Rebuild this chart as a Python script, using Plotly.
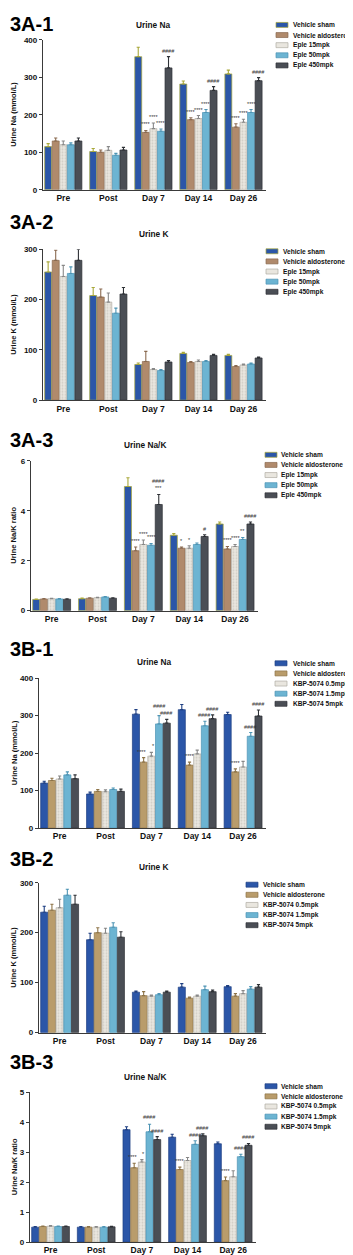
import plotly.graph_objects as go

W, H = 353, 1255
FONT = "Liberation Sans, Arial, sans-serif"

categories = ["Pre", "Post", "Day 7", "Day 14", "Day 26"]
groups_A = ["Vehicle sham", "Vehicle aldosterone", "Eple 15mpk", "Eple 50mpk", "Eple 450mpk"]
groups_B = ["Vehicle sham", "Vehicle aldosterone", "KBP-5074 0.5mpk", "KBP-5074 1.5mpk", "KBP-5074 5mpk"]

# ---- 3A-1 Urine Na (mmol/L)
a1_mean = [[115, 102, 355, 282, 309],
           [130, 100, 153, 187, 167],
           [120, 105, 163, 190, 180],
           [120, 92, 156, 206, 206],
           [130, 106, 325, 265, 291]]
a1_err = [[8, 8, 25, 8, 10],
          [8, 6, 5, 5, 9],
          [10, 10, 15, 8, 8],
          [5, 5, 6, 8, 8],
          [8, 7, 30, 10, 8]]
a1_sig = [(2, 1, "****"), (2, 2, "****"), (2, 3, "****"), (2, 4, "####"),
          (3, 1, "****"), (3, 2, "****"), (3, 3, "****"), (3, 4, "####"),
          (4, 1, "****"), (4, 2, "****"), (4, 3, "****"), (4, 4, "####")]

# ---- 3A-2 Urine K (mmol/L)
a2_mean = [[255, 208, 71, 93, 89],
           [278, 205, 77, 75, 67],
           [246, 195, 61, 77, 70],
           [252, 173, 59, 77, 72],
           [278, 211, 76, 89, 84]]
a2_err = [[20, 16, 3, 2, 2],
          [20, 16, 20, 2, 2],
          [22, 18, 2, 3, 2],
          [13, 10, 2, 2, 2],
          [22, 13, 3, 2, 2]]
a2_sig = []

# ---- 3A-3 Urine Na/K ratio
a3_mean = [[0.45, 0.48, 4.97, 3.02, 3.47],
           [0.47, 0.50, 2.40, 2.50, 2.47],
           [0.48, 0.52, 2.65, 2.50, 2.57],
           [0.47, 0.55, 2.62, 2.65, 2.85],
           [0.46, 0.50, 4.25, 2.97, 3.47]]
a3_err = [[0.02, 0.03, 0.35, 0.07, 0.08],
          [0.02, 0.02, 0.15, 0.05, 0.10],
          [0.02, 0.02, 0.18, 0.10, 0.08],
          [0.02, 0.02, 0.07, 0.06, 0.08],
          [0.02, 0.02, 0.40, 0.07, 0.08]]
a3_sig = [(2, 1, "****"), (2, 2, "****"), (2, 3, "****"), (2, 4, "####<br>***"),
          (3, 1, "*"), (3, 2, "*"), (3, 4, "#"),
          (4, 1, "****"), (4, 2, "****"), (4, 3, "**"), (4, 4, "####")]

# ---- 3B-1 Urine Na (mmol/L)
b1_mean = [[120, 91, 304, 316, 303],
           [127, 98, 176, 168, 150],
           [131, 97, 192, 198, 163],
           [142, 103, 278, 273, 245],
           [132, 98, 280, 292, 299]]
b1_err = [[5, 5, 12, 14, 6],
          [6, 5, 12, 8, 8],
          [8, 5, 10, 10, 15],
          [8, 4, 22, 12, 10],
          [10, 6, 10, 10, 16]]
b1_sig = [(2, 1, "****"), (2, 2, "*"), (2, 3, "####"), (2, 4, "####"),
          (3, 1, "****"), (3, 3, "####"), (3, 4, "####"),
          (4, 1, "****"), (4, 3, "####"), (4, 4, "####")]

# ---- 3B-2 Urine K (mmol/L)
b2_mean = [[241, 186, 81, 91, 92],
           [245, 200, 74, 69, 73],
           [250, 199, 73, 73, 78],
           [275, 211, 76, 86, 87],
           [257, 191, 81, 82, 91]]
b2_err = [[12, 13, 2, 7, 2],
          [12, 10, 8, 2, 5],
          [17, 10, 2, 2, 6],
          [12, 9, 2, 7, 5],
          [18, 11, 2, 3, 5]]
b2_sig = []

# ---- 3B-3 Urine Na/K ratio
b3_mean = [[0.50, 0.50, 3.75, 3.50, 3.28],
           [0.52, 0.50, 2.48, 2.42, 2.05],
           [0.53, 0.50, 2.67, 2.72, 2.18],
           [0.52, 0.50, 3.68, 3.26, 2.85],
           [0.52, 0.51, 3.42, 3.55, 3.23]]
b3_err = [[0.02, 0.02, 0.10, 0.10, 0.06],
          [0.02, 0.02, 0.15, 0.08, 0.12],
          [0.02, 0.02, 0.08, 0.10, 0.20],
          [0.02, 0.02, 0.25, 0.12, 0.08],
          [0.02, 0.02, 0.10, 0.06, 0.06]]
b3_sig = [(2, 1, "****"), (2, 2, "*"), (2, 3, "####"), (2, 4, "####"),
          (3, 1, "****"), (3, 3, "####"), (3, 4, "####"),
          (4, 1, "****"), (4, 3, "####"), (4, 4, "####")]

# ---------------- styles ----------------
FILL_A = ["#2b56a8", "#b08a6c", "#e9e6df", "#6cb4d2", "#4a4e55"]
LINE_A = ["#a9a83a", "#8a6a50", "#b0aca4", "#4d94b4", "#2e3136"]
FILL_B = ["#2b56a8", "#b99c6b", "#e9e6df", "#6cb4d2", "#4a4e55"]
LINE_B = ["#1e3f82", "#8e7448", "#b0aca4", "#4d94b4", "#2e3136"]

# pixel nudges for crowded significance marks: (panel label, category, series) -> shift
SIG_XSHIFT = {("3B-1", 2, 1): -2, ("3B-1", 2, 2): 2, ("3B-3", 2, 1): -2, ("3B-3", 2, 2): 2}
SIG_YSHIFT = {("3B-1", 2, 3): 4, ("3B-3", 2, 3): 1}

panels = [
    dict(label="3A-1", title="Urine Na", ytitle="Urine Na (mmol/L)", mean=a1_mean, err=a1_err, sig=a1_sig,
         names=groups_A, fill=FILL_A, line=LINE_A, yr=400, dt=100,
         x0=35, x1=258, y0=28, y1=179, lab_y=12, tit=(145, 13), leg=(268, 283, 13)),
    dict(label="3A-2", title="Urine K", ytitle="Urine K (mmol/L)", mean=a2_mean, err=a2_err, sig=a2_sig,
         names=groups_A, fill=FILL_A, line=LINE_A, yr=300, dt=100,
         x0=35, x1=258, y0=239, y1=391, lab_y=212, tit=(146, 224), leg=(258, 273, 241)),
    dict(label="3A-3", title="Urine Na/K", ytitle="Urine Na/K ratio", mean=a3_mean, err=a3_err, sig=a3_sig,
         names=groups_A, fill=FILL_A, line=LINE_A, yr=6, dt=2,
         x0=23, x1=250, y0=452, y1=603, lab_y=431, tit=(137, 436), leg=(257, 271, 446)),
    dict(label="3B-1", title="Urine Na", ytitle="Urine Na (mmol/L)", mean=b1_mean, err=b1_err, sig=b1_sig,
         names=groups_B, fill=FILL_B, line=LINE_B, yr=400, dt=100,
         x0=31, x1=258, y0=671, y1=822, lab_y=642, tit=(146, 655), leg=(267, 283, 656)),
    dict(label="3B-2", title="Urine K", ytitle="Urine K (mmol/L)", mean=b2_mean, err=b2_err, sig=b2_sig,
         names=groups_B, fill=FILL_B, line=LINE_B, yr=300, dt=100,
         x0=31, x1=258, y0=877, y1=1028, lab_y=853, tit=(146, 861), leg=(238, 253, 879)),
    dict(label="3B-3", title="Urine Na/K", ytitle="Urine Na/K ratio", mean=b3_mean, err=b3_err, sig=b3_sig,
         names=groups_B, fill=FILL_B, line=LINE_B, yr=5, dt=1,
         x0=22, x1=248, y0=1088, y1=1239, lab_y=1058, tit=(137, 1073), leg=(257, 271, 1082)),
]

BARGAP = 0.16
BARGROUPGAP = 0.08
NS = 5
SLOT = (1 - BARGAP) / NS


def px(x):
    return x / W


def py(y):
    return 1 - y / H


fig = go.Figure()
annotations = []
shapes = []
layout_axes = {}
xs = list(range(len(categories)))

for k, p in enumerate(panels, start=1):
    xa, ya = ("x" if k == 1 else f"x{k}"), ("y" if k == 1 else f"y{k}")
    for i in range(NS):
        pattern = dict(shape=".", fgcolor="#b9b5ab", size=3, solidity=0.3) if i == 2 else dict(shape="")
        fig.add_trace(go.Bar(
            x=xs, y=p["mean"][i], name=p["names"][i], xaxis=xa, yaxis=ya, showlegend=False,
            marker=dict(color=p["fill"][i], line=dict(color=p["line"][i], width=0.7), pattern=pattern),
            error_y=dict(type="data", symmetric=False, array=p["err"][i], arrayminus=[0] * len(xs),
                         color=p["line"][i] if i != 2 else "#888", thickness=1.1, width=1.6),
        ))
    axn = "" if k == 1 else str(k)
    layout_axes[f"xaxis{axn}"] = dict(
        domain=[px(p["x0"]), px(p["x1"])], anchor=ya, range=[-0.45, 4.5],
        tickvals=xs, ticktext=categories, ticks="", showline=True, linecolor="#3a3a3a", linewidth=1.3,
        showgrid=False, zeroline=False, fixedrange=True,
        tickfont=dict(family=FONT, size=8.5, color="#111", weight="bold"))
    layout_axes[f"yaxis{axn}"] = dict(
        domain=[py(p["y1"]), py(p["y0"])], anchor=xa, range=[0, p["yr"]], dtick=p["dt"],
        ticks="outside", ticklen=3, tickwidth=1.2, tickcolor="#3a3a3a",
        showline=True, linecolor="#3a3a3a", linewidth=1.3, showgrid=False, zeroline=False,
        tickfont=dict(family=FONT, size=8, color="#111", weight="bold"))

    # panel label and title
    annotations.append(dict(text=p["label"], x=px(0), y=py(p["lab_y"]), xref="paper", yref="paper",
                            xanchor="left", yanchor="middle", showarrow=False,
                            font=dict(family=FONT, size=20, color="#000", weight="bold")))
    annotations.append(dict(text=p["title"], x=px(p["tit"][0]), y=py(p["tit"][1]), xref="paper", yref="paper",
                            xanchor="center", yanchor="middle", showarrow=False,
                            font=dict(family=FONT, size=8.3, color="#111", weight="bold")))
    annotations.append(dict(text=p["ytitle"], x=px(6), y=py((p["y0"] + p["y1"]) / 2), xref="paper", yref="paper",
                            xanchor="center", yanchor="middle", textangle=-90, showarrow=False,
                            font=dict(family=FONT, size=7.5, color="#111", weight="bold")))

    # significance marks
    for (c, i, txt) in p["sig"]:
        key = (p["label"], c, i)
        annotations.append(dict(text=txt, x=c + (i - 2) * SLOT, y=p["mean"][i][c] + p["err"][i][c],
                                xref=xa, yref=ya, xanchor="center", yanchor="bottom", showarrow=False,
                                yshift=1 + SIG_YSHIFT.get(key, 0), xshift=SIG_XSHIFT.get(key, 0),
                                font=dict(family=FONT, size=5.5, color="#333")))

    # legend
    sx, tx, ry = p["leg"]
    for i in range(NS):
        yy = ry + i * 10.2
        shapes.append(dict(type="rect", xref="paper", yref="paper", x0=px(sx), x1=px(sx + 12),
                           y0=py(yy + 2.5), y1=py(yy - 2.5), fillcolor=p["fill"][i],
                           line=dict(color=p["line"][i], width=0.7)))
        annotations.append(dict(text=p["names"][i], x=px(tx), y=py(yy), xref="paper", yref="paper",
                                xanchor="left", yanchor="middle", showarrow=False,
                                font=dict(family=FONT, size=6.6, color="#111", weight="bold")))

fig.update_layout(
    width=W, height=H, margin=dict(l=0, r=0, t=0, b=0),
    paper_bgcolor="white", plot_bgcolor="white",
    barmode="group", bargap=BARGAP, bargroupgap=BARGROUPGAP,
    showlegend=False, annotations=annotations, shapes=shapes,
    font=dict(family=FONT),
    **layout_axes,
)

fig.write_html("out.html")
